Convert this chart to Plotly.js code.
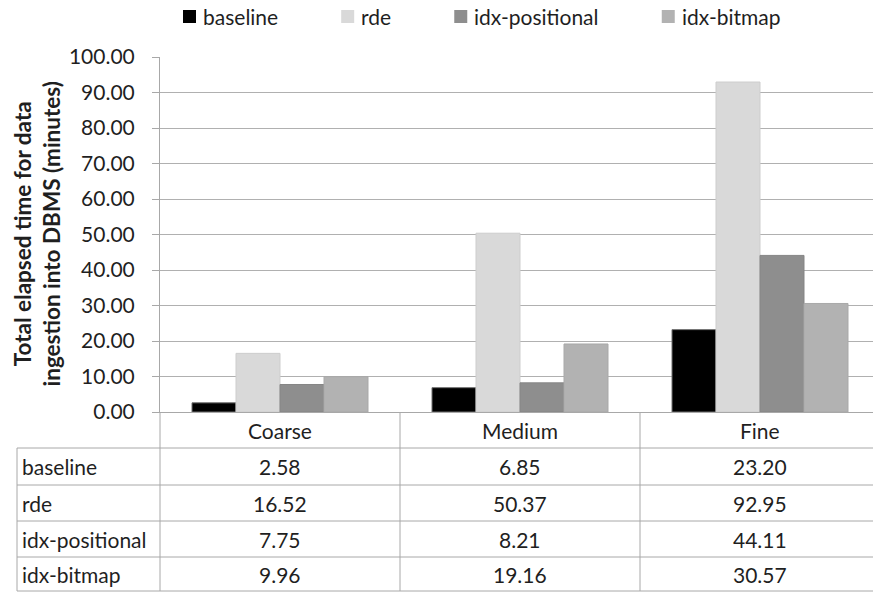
<!DOCTYPE html>
<html>
<head>
<meta charset="utf-8">
<script src="https://cdn.plot.ly/plotly-3.0.1.min.js"></script>
<style>
  html, body { margin: 0; padding: 0; background: #ffffff; }
  #chart { width: 873px; height: 592px; }
</style>
</head>
<body>
<div id="chart"></div>
<script>
// Ingestion time per grid resolution (minutes)
const categories = ['Coarse', 'Medium', 'Fine'];
const seriesNames = ['baseline', 'rde', 'idx-positional', 'idx-bitmap'];
const baseline = [2.58, 6.85, 23.20];
const rde = [16.52, 50.37, 92.95];
const idxPositional = [7.75, 8.21, 44.11];
const idxBitmap = [9.96, 19.16, 30.57];
const yTickValues = [0, 10, 20, 30, 40, 50, 60, 70, 80, 90, 100];
const yTitle = 'Total elapsed time for data<br>ingestion into DBMS (minutes)';

const seriesValues = [baseline, rde, idxPositional, idxBitmap];
const fillColors = ['#000000', '#d9d9d9', '#8e8e8e', '#b2b2b2'];
const edgeColors = ['#6e6e6e', '#cdcdcd', '#858585', '#a9a9a9'];

// Page geometry (px)
const W = 873, H = 592;
const M = { l: 160, r: 0, t: 57, b: 180 };
const plotW = W - M.l - M.r;
const plotH = H - M.t - M.b;
const plotBottom = M.t + plotH;
const px2paperX = p => (p - M.l) / plotW;
const px2paperY = p => (plotBottom - p) / plotH;

const FONT = 'Lato, "Open Sans", sans-serif';
const FS = 21;
const TEXT = '#1f1f1f';
const GRID = '#b0b0b0';
const RULE = '#a8a8a8';

const traces = seriesNames.map((name, i) => ({
  type: 'bar',
  name: name,
  x: categories,
  y: seriesValues[i],
  marker: { color: fillColors[i], line: { color: edgeColors[i], width: 1 } },
  hoverinfo: 'x+y+name'
}));

const shapes = [];
const annotations = [];

// Data table below the plot
const rowLines = [448, 485, 521, 557, 591];
const tableLeft = 17;
rowLines.forEach(p => {
  shapes.push({ type: 'line', xref: 'paper', yref: 'paper',
    x0: px2paperX(tableLeft), x1: 1.02, y0: px2paperY(p), y1: px2paperY(p),
    line: { color: RULE, width: 1 } });
});
// left edge of the row-label column
shapes.push({ type: 'line', xref: 'paper', yref: 'paper',
  x0: px2paperX(tableLeft), x1: px2paperX(tableLeft),
  y0: px2paperY(rowLines[0]), y1: px2paperY(rowLines[rowLines.length - 1]),
  line: { color: RULE, width: 1 } });
// continuation of the value axis through the table
shapes.push({ type: 'line', xref: 'paper', yref: 'paper',
  x0: 0, x1: 0, y0: 0, y1: px2paperY(rowLines[rowLines.length - 1]),
  line: { color: RULE, width: 1 } });
// column separators at category boundaries
for (let i = 0; i < categories.length - 1; i++) {
  shapes.push({ type: 'line', xref: 'x', yref: 'paper',
    x0: i + 0.5, x1: i + 0.5, y0: 0, y1: px2paperY(rowLines[rowLines.length - 1]),
    line: { color: RULE, width: 1 } });
}

const rowTops = [plotBottom].concat(rowLines.slice(0, -1));
const rowBottoms = rowLines;
const rowMid = k => (rowTops[k] + rowBottoms[k]) / 2;

// header row: category names
categories.forEach((c, j) => {
  annotations.push({ xref: 'x', yref: 'paper', x: j, y: px2paperY(rowMid(0)),
    text: c, showarrow: false, xanchor: 'center', yanchor: 'middle' });
});
// one row per series
seriesNames.forEach((name, i) => {
  const yMid = px2paperY(rowMid(i + 1));
  annotations.push({ xref: 'paper', yref: 'paper', x: px2paperX(20), y: yMid,
    text: name, showarrow: false, xanchor: 'left', yanchor: 'middle' });
  seriesValues[i].forEach((v, j) => {
    annotations.push({ xref: 'x', yref: 'paper', x: j, y: yMid,
      text: v.toFixed(2), showarrow: false, xanchor: 'center', yanchor: 'middle' });
  });
});

// value-axis title
annotations.push({ xref: 'paper', yref: 'paper', x: px2paperX(36), y: 0.5,
  text: '<b>' + yTitle + '</b>', textangle: -90, showarrow: false,
  xanchor: 'center', yanchor: 'middle', font: { size: 22.5, family: FONT, color: TEXT } });

// legend row along the top
const measure = (() => {
  const ctx = document.createElement('canvas').getContext('2d');
  ctx.font = FS + 'px ' + FONT;
  return s => ctx.measureText(s).width;
})();
let lx = 183;
const legendMid = 16.5;
seriesNames.forEach((name, i) => {
  shapes.push({ type: 'rect', xref: 'paper', yref: 'paper',
    x0: px2paperX(lx), x1: px2paperX(lx + 13),
    y0: px2paperY(legendMid + 6.5), y1: px2paperY(legendMid - 6.5),
    fillcolor: fillColors[i], line: { width: 0 } });
  annotations.push({ xref: 'paper', yref: 'paper', x: px2paperX(lx + 18), y: px2paperY(legendMid),
    text: name, showarrow: false, xanchor: 'left', yanchor: 'middle' });
  lx += 20 + measure(name) + 63;
});

const layout = {
  width: W, height: H,
  margin: M,
  paper_bgcolor: '#ffffff', plot_bgcolor: '#ffffff',
  font: { family: FONT, size: FS, color: TEXT },
  showlegend: false,
  barmode: 'group',
  bargap: 0.2667,
  bargroupgap: 0,
  xaxis: {
    type: 'category',
    range: [-0.5, 2.4708],
    showticklabels: false,
    ticks: '',
    showgrid: false,
    zeroline: false,
    showline: true, linecolor: RULE, linewidth: 1,
    fixedrange: true
  },
  yaxis: {
    range: [0, 100],
    tickvals: yTickValues,
    tickformat: '.2f',
    showgrid: true, gridcolor: GRID, gridwidth: 1,
    zeroline: false,
    showline: true, linecolor: RULE, linewidth: 1,
    ticks: 'outside', ticklen: 7, tickcolor: RULE,
    ticklabelstandoff: 13,
    fixedrange: true
  },
  shapes: shapes,
  annotations: annotations
};

Plotly.newPlot('chart', traces, layout, { displayModeBar: false, staticPlot: true });
</script>
</body>
</html>
